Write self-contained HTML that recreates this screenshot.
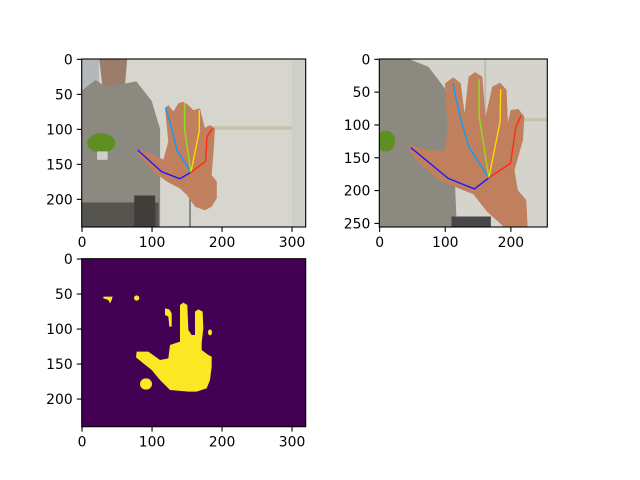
<!DOCTYPE html>
<html><head><meta charset="utf-8"><style>
body{margin:0;background:#fff}
svg{display:block}
text{font-family:"DejaVu Sans","Liberation Sans",sans-serif;font-size:13.9px;fill:#000}
</style></head><body>
<svg id="fig" width="640" height="480" viewBox="0 0 640 480" xmlns="http://www.w3.org/2000/svg">
<defs>
<clipPath id="c1"><rect x="-0.5" y="-0.5" width="320" height="240"/></clipPath>
<clipPath id="c2"><rect x="-0.5" y="-0.5" width="256" height="256"/></clipPath>
</defs>
<g transform="translate(81.7,59) scale(0.7)">
<g clip-path="url(#c1)">
<rect x="-0.5" y="-0.5" width="320" height="240" fill="#d6d6cf"/>
<rect x="-0.5" y="-0.5" width="25" height="45" fill="#b4b8bb"/>
<polygon points="25,0 65,0 62,35 30,42" fill="#9c7c6a"/>
<polygon points="0,45 20,30 35,40 62,35 78,32 100,60 112,100 112,240 0,240" fill="#8b8980"/>
<rect x="0" y="205" width="110" height="35" fill="#55544f"/>
<rect x="75" y="195" width="30" height="45" fill="#3f3e3b"/>
<rect x="175" y="96" width="145" height="5" fill="#c6c2ad"/>
<rect x="154" y="100" width="1.5" height="140" fill="#444"/>
<rect x="300" y="0" width="20" height="240" fill="#cfcfca"/>
<ellipse cx="28" cy="120" rx="20" ry="14" fill="#5f8e22"/>
<rect x="22" y="132" width="15" height="12" fill="#cfcfca"/>
<polygon fill="#c0805e" points="78.5,130 93,132 116.6,144 123.7,118 119,70.5 123.7,65.7 131,75 138,63.3 145,61 152.3,65.7 159.4,73 169,70.5 176,99 183,94.3 190.4,99 188,137 185.6,165.7 193,175 193,199 185.6,211 176,216 162,211 150,194 140.4,185 121.4,175 102.3,161 81,137"/>
<g id="kp1"></g>
</g></g>
<g transform="translate(379.3,59) scale(0.65625)">
<g clip-path="url(#c2)">
<rect x="-0.5" y="-0.5" width="256" height="256" fill="#d4d4cd"/>
<polygon points="0,0 45,0 75,12 100,45 112,100 118,256 0,256" fill="#8b8980"/>
<rect x="110" y="240" width="60" height="16" fill="#48474a"/>
<rect x="160" y="0" width="3" height="100" fill="#bdbcb0"/>
<rect x="185" y="90" width="71" height="5" fill="#c6c2ad"/>
<ellipse cx="10" cy="125" rx="14" ry="16" fill="#5f8e22"/>
<polygon fill="#c0805e" points="46.8,131 72,138.7 100,140 104,108 100,37 112.8,28 124,37 130,82.8 136,27 145.9,20 157,27 162,87.9 172,42.2 184,36 194,47.3 196,98 200,77.7 211.9,76 221,87.9 219,123.5 206,169.2 211,199.7 224,215 226,256 190,256 163.6,232 143.3,206 118,196 92.5,186 62,160 45.8,138.7"/>
<g id="kp2"></g>
</g></g>
<g>
<rect x="81.7" y="258.7" width="224" height="168" fill="#440154"/>
<g transform="translate(80,280) scale(0.33333)" fill="#fde725">
<polygon points="170,215 205,215 240,240 265,235 270,195 300,185 300,75 310,68 322,75 325,150 335,165 345,165 345,95 355,88 368,95 370,145 365,190 365,210 385,225 395,230 395,260 390,300 380,325 350,335 325,335 270,330 240,300 215,270 190,250 168,232"/>
<polygon points="255,85 268,88 275,100 275,140 268,140 265,110 255,105"/>
<ellipse cx="390" cy="157" rx="6" ry="9"/>
<ellipse cx="198" cy="312" rx="18" ry="17"/>
<polygon points="70,50 98,50 95,60 90,70 85,60 70,55"/>
<ellipse cx="170" cy="54" rx="8" ry="8"/>
</g>
</g>
<g id="axes"></g>
</svg>
<script>
const NS="http://www.w3.org/2000/svg";
const wrist1=[156,162];
const thumb1=[[140,171],[114,161],[80,130]];
const index1=[[136,130],[129,101],[120,69]];
const middle1=[[147,101],[147,63]];
const ring1=[[168,103],[168,73]];
const pinky1=[[177,146],[179,111],[187,99]];
const wrist2=[167,181];
const thumb2=[[145,198],[105,182],[48,135]];
const index2=[[137,135],[123,88],[112,37]];
const middle2=[[152,86],[152,31]];
const ring2=[[184,96],[185,46]];
const pinky2=[[200,159],[208,104],[216,86]];
const fingerNames=["thumb","index","middle","ring","pinky"];
const fingerColors=["#1a1aff","#0a9cff","#8ae020","#ffd800","#ff2a10"];
function drawKp(gid,wrist,fingers,sw){
  const g=document.getElementById(gid);
  fingers.forEach((f,i)=>{
    const pts=[wrist].concat(f).map(p=>p[0]+","+p[1]).join(" ");
    const pl=document.createElementNS(NS,"polyline");
    pl.setAttribute("points",pts);pl.setAttribute("fill","none");
    pl.setAttribute("stroke",fingerColors[i]);pl.setAttribute("stroke-width",sw);
    
    
    g.appendChild(pl);
  });
}
drawKp("kp1",wrist1,[thumb1,index1,middle1,ring1,pinky1],2);
drawKp("kp2",wrist2,[thumb2,index2,middle2,ring2,pinky2],2.1);

const xt1=[0,100,200,300], yt1=[0,50,100,150,200];
const xt2=[0,100,200], yt2=[0,50,100,150,200,250];
const ax=document.getElementById("axes");
function axis(name,x0,y0,w,h,scale,xt,yt){
  const g=document.createElementNS(NS,"g");
  
  
  ax.appendChild(g);
  const r=document.createElementNS(NS,"rect");
  r.setAttribute("x",x0);r.setAttribute("y",y0);r.setAttribute("width",w);r.setAttribute("height",h);
  r.setAttribute("fill","none");r.setAttribute("stroke","#000");r.setAttribute("stroke-width","1.1");
  g.appendChild(r);
  xt.forEach(v=>{
    const x=x0+(v+0.5)*scale;
    const l=document.createElementNS(NS,"line");
    l.setAttribute("x1",x);l.setAttribute("x2",x);l.setAttribute("y1",y0+h);l.setAttribute("y2",y0+h+4.9);
    l.setAttribute("stroke","#000");l.setAttribute("stroke-width","1.1");g.appendChild(l);
    const t=document.createElementNS(NS,"text");
    t.setAttribute("x",x);t.setAttribute("y",y0+h+20);t.setAttribute("text-anchor","middle");
    t.textContent=v;
    
    
    g.appendChild(t);
  });
  yt.forEach(v=>{
    const y=y0+(v+0.5)*scale;
    const l=document.createElementNS(NS,"line");
    l.setAttribute("x1",x0-4.9);l.setAttribute("x2",x0);l.setAttribute("y1",y);l.setAttribute("y2",y);
    l.setAttribute("stroke","#000");l.setAttribute("stroke-width","1.1");g.appendChild(l);
    const t=document.createElementNS(NS,"text");
    t.setAttribute("x",x0-9);t.setAttribute("y",y+5);t.setAttribute("text-anchor","end");
    t.textContent=v;
    
    
    g.appendChild(t);
  });
}
axis("axes-original",81.7,59,224,168,0.7,xt1,yt1);
axis("axes-crop",379.3,59,168,168,0.65625,xt2,yt2);
axis("axes-mask",81.7,258.7,224,168,0.7,xt1,yt1);
</script>
</body></html>
